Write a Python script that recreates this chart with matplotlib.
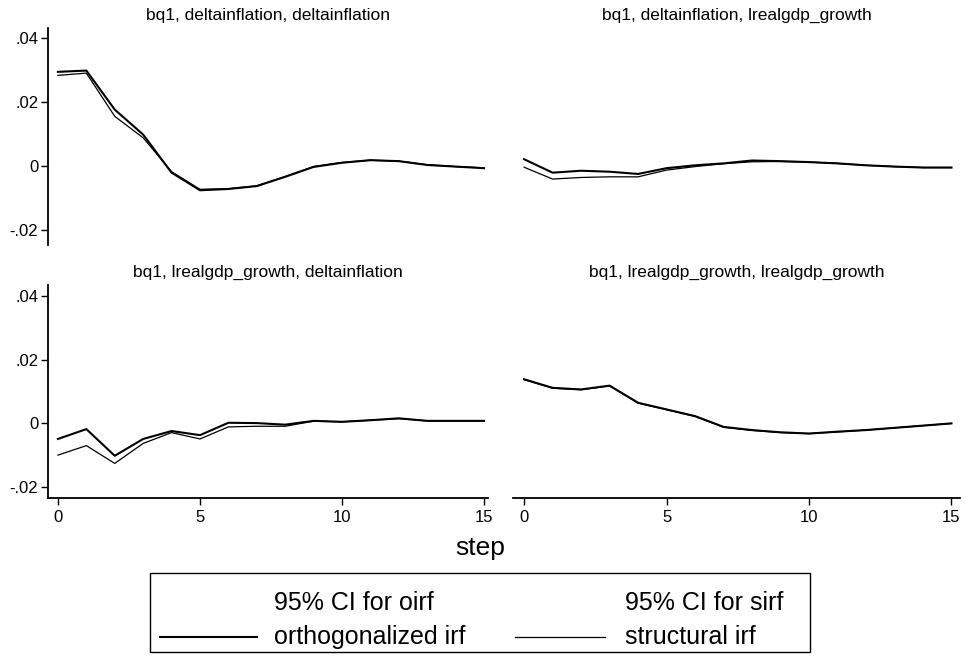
import matplotlib
matplotlib.use("Agg")
import matplotlib.pyplot as plt
from matplotlib.lines import Line2D
from matplotlib.patches import Rectangle
import numpy as np

plt.rcParams['font.family'] = ['Liberation Sans', 'DejaVu Sans']

steps = list(range(16))

titles = ["bq1, deltainflation, deltainflation",
          "bq1, deltainflation, lrealgdp_growth",
          "bq1, lrealgdp_growth, deltainflation",
          "bq1, lrealgdp_growth, lrealgdp_growth"]

# orthogonalized irf
oirf_dd = [0.0294, 0.0298, 0.0176, 0.0098, -0.0021, -0.0076, -0.0072, -0.0063,
           -0.0034, -0.0003, 0.0010, 0.0018, 0.0015, 0.0003, -0.0002, -0.0007]
oirf_dg = [0.0021, -0.0021, -0.0015, -0.0018, -0.0025, -0.0007, 0.0002, 0.0008,
           0.0017, 0.0015, 0.0012, 0.0008, 0.0002, -0.0002, -0.0005, -0.0005]
oirf_gd = [-0.0050, -0.0019, -0.0103, -0.0050, -0.0025, -0.0038, 0.0001, 0.0000,
           -0.0005, 0.0007, 0.0004, 0.0009, 0.0015, 0.0007, 0.0007, 0.0007]
oirf_gg = [0.0138, 0.0111, 0.0106, 0.0118, 0.0064, 0.0043, 0.0022, -0.0012,
           -0.0022, -0.0029, -0.0033, -0.0027, -0.0022, -0.0015, -0.0008, -0.0001]

# structural irf
sirf_dd = [0.0283, 0.0290, 0.0155, 0.0088, -0.0018, -0.0073, -0.0071, -0.0062,
           -0.0033, -0.0002, 0.0011, 0.0018, 0.0015, 0.0004, -0.0002, -0.0006]
sirf_dg = [-0.0004, -0.0041, -0.0036, -0.0034, -0.0034, -0.0013, -0.0002, 0.0007,
           0.0013, 0.0014, 0.0012, 0.0008, 0.0002, -0.0002, -0.0005, -0.0005]
sirf_gd = [-0.0101, -0.0071, -0.0127, -0.0064, -0.0030, -0.0050, -0.0012, -0.0010,
           -0.0010, 0.0006, 0.0004, 0.0009, 0.0014, 0.0007, 0.0007, 0.0007]
sirf_gg = [0.0137, 0.0110, 0.0105, 0.0117, 0.0063, 0.0042, 0.0021, -0.0013,
           -0.0023, -0.0030, -0.0033, -0.0028, -0.0022, -0.0015, -0.0008, -0.0001]

oirf = [oirf_dd, oirf_dg, oirf_gd, oirf_gg]
sirf = [sirf_dd, sirf_dg, sirf_gd, sirf_gg]

yticks = [-0.02, 0, 0.02, 0.04]
yticklabels = ["-.02", "0", ".02", ".04"]
xticks = [0, 5, 10, 15]
xticklabels = ["0", "5", "10", "15"]

W, H = 964, 659
fig = plt.figure(figsize=(W / 100, H / 100), dpi=100)

def fx(px):
    return px / W

def fy(py):
    return 1 - py / H

# panel rectangles in pixel coords (left, top, right, bottom)
rects = [(48, 28, 488, 245), (513, 28, 960, 245),
         (48, 285, 488, 498), (513, 285, 960, 498)]
xlims = [(-0.35, 15.14), (-0.39, 15.3), (-0.35, 15.14), (-0.39, 15.3)]
ylims = [(-0.0247, 0.0431), (-0.0247, 0.0431), (-0.0236, 0.0435), (-0.0236, 0.0435)]

for i in range(4):
    l, t, r, b = rects[i]
    ax = fig.add_axes([fx(l), fy(b), fx(r - l), (b - t) / H])
    ax.plot(steps, oirf[i], color='black', lw=1.5)
    ax.plot(steps, sirf[i], color='black', lw=0.9)
    ax.set_xlim(*xlims[i])
    ax.set_ylim(*ylims[i])
    for s in ['top', 'right']:
        ax.spines[s].set_visible(False)
    ax.set_title(titles[i], fontsize=12.5, pad=6)
    if i in (0, 2):
        ax.spines['left'].set_linewidth(1.3)
        ax.set_yticks(yticks)
        ax.set_yticklabels(yticklabels, fontsize=12)
        ax.tick_params(axis='y', direction='out', length=5, width=1, pad=2)
    else:
        ax.spines['left'].set_visible(False)
        ax.set_yticks([])
    if i in (2, 3):
        ax.spines['bottom'].set_linewidth(1.3)
        ax.set_xticks(xticks)
        ax.set_xticklabels(xticklabels, fontsize=12)
        ax.tick_params(axis='x', direction='out', length=5, width=1, pad=4)
    else:
        ax.spines['bottom'].set_visible(False)
        ax.set_xticks([])
    ax.patch.set_alpha(0)

fig.text(fx(480), fy(548), "step", fontsize=19, ha='center', va='center')

# legend box
box = Rectangle((fx(150), fy(652)), fx(810 - 150), (652 - 573) / H,
                transform=fig.transFigure, fill=False, edgecolor='black', lw=1.0)
fig.add_artist(box)
fs = 18
fig.text(fx(274), fy(603), "95% CI for oirf", fontsize=fs, va='center', ha='left')
fig.text(fx(625), fy(603), "95% CI for sirf", fontsize=fs, va='center', ha='left')
fig.add_artist(Line2D([fx(160), fx(257)], [fy(637), fy(637)], color='black', lw=1.5,
                      transform=fig.transFigure))
fig.text(fx(274), fy(637), "orthogonalized irf", fontsize=fs, va='center', ha='left')
fig.add_artist(Line2D([fx(515), fx(605)], [fy(637), fy(637)], color='black', lw=0.9,
                      transform=fig.transFigure))
fig.text(fx(625), fy(637), "structural irf", fontsize=fs, va='center', ha='left')

fig.savefig("out.png", dpi=100)
